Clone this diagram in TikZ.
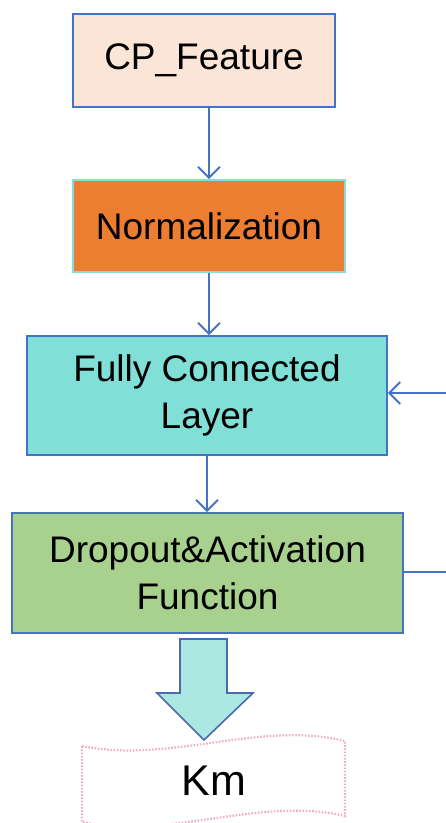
\documentclass[tikz,border=0pt]{standalone}
\usepackage{fontspec}
\setmainfont{Liberation Sans}
\usetikzlibrary{arrows.meta}
\definecolor{lineblue}{HTML}{4472C4}
\definecolor{peach}{HTML}{FBE5D6}
\definecolor{orangefill}{HTML}{ED7D31}
\definecolor{cyanborder}{HTML}{7FE0D8}
\definecolor{tealfill}{HTML}{80DFD7}
\definecolor{greenfill}{HTML}{A9D18E}
\definecolor{bigarrowfill}{HTML}{AAE8E1}
\definecolor{bigarrowborder}{HTML}{4A6AAE}
\definecolor{pinkdot}{HTML}{F2AEBC}
\tikzset{
  box/.style={draw=lineblue, line width=1.6bp, align=center, inner sep=0pt,
              font=\fontsize{37bp}{47bp}\selectfont},
  conn/.style={draw=lineblue, line width=2bp,
               -{Straight Barb[length=11bp,width=22bp,line width=2bp]}},
  plainconn/.style={draw=lineblue, line width=2bp},
}
\begin{document}
\begin{tikzpicture}[x=1bp,y=-1bp]
\useasboundingbox (0,0) rectangle (446,823);

\node[box, fill=peach, minimum width=262bp, minimum height=93bp] (cp) at (204,60.5) {CP\_Feature};
\node[box, fill=orangefill, draw=cyanborder, minimum width=272bp, minimum height=92bp] (norm) at (209,226) {Normalization};
\node[box, fill=tealfill, minimum width=360bp, minimum height=119bp] (fc) at (207,395.5) {Fully Connected\\Layer};
\node[box, fill=greenfill, minimum width=391bp, minimum height=120bp] (do) at (207.5,573) {Dropout\&Activation\\Function};

\draw[conn] (cp.south -| norm.north) -- (norm.north);
\draw[conn] (norm.south) -- (norm.south |- fc.north);
\draw[conn] (fc.south) -- (fc.south |- do.north);

\coordinate (outA) at (446,572);
\coordinate (outB) at (446,393);
\draw[plainconn] (do.east |- outA) -- (outA);
\draw[conn] (outB) -- (fc.east |- outB);

% big down arrow
\draw[fill=bigarrowfill, draw=bigarrowborder, line width=1.6bp, line join=miter]
  (180,639) -- (227,639) -- (227,693) -- (253,693) -- (204,740) -- (157,693) -- (180,693) -- cycle;

% Km tape shape
\draw[pinkdot, line width=2.2bp, dash pattern=on 1.6bp off 1.6bp]
  (82,746) .. controls (170,764) and (260,720) .. (345,741)
  -- (345,816) .. controls (260,796) and (170,840) .. (82,822) -- cycle;
\node[font=\fontsize{43bp}{50bp}\selectfont] (km) at (214,781) {Km};
\end{tikzpicture}
\end{document}
